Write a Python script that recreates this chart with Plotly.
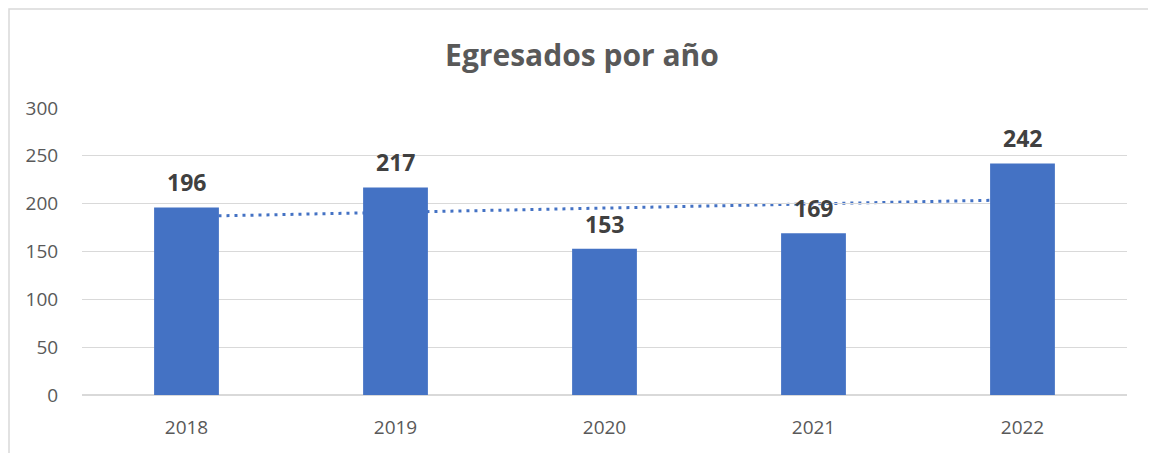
import numpy as np
import plotly.graph_objects as go

# Data
years = ["2018", "2019", "2020", "2021", "2022"]
egresados = [196, 217, 153, 169, 242]
y_ticks = [0, 50, 100, 150, 200, 250, 300]

# linear trendline (as in the Excel chart)
xi = np.arange(1, len(years) + 1)
slope, intercept = np.polyfit(xi, egresados, 1)
trend = slope * xi + intercept

blue = "#4472C4"
gray_text = "#595959"
font_fam = "Open Sans, Liberation Sans, sans-serif"

W, H = 1148, 445
L, T, PW, PH = 74, 100, 1045, 287

fig = go.Figure()
fig.add_trace(go.Bar(x=years, y=egresados, marker=dict(color=blue, line=dict(width=0)),
                     hoverinfo="x+y"))

# data labels above bars (category index positions)
for i, v in enumerate(egresados):
    fig.add_annotation(x=i, y=v, text="<b>%d</b>" % v, showarrow=False,
                       yanchor="bottom", yshift=7,
                       font=dict(family=font_fam, size=23, color="#404040"))

# trendline behind bars
fig.add_shape(type="line", xref="x", yref="y", x0=0, y0=trend[0],
              x1=len(years) - 1, y1=trend[-1], layer="below",
              line=dict(color=blue, width=3, dash="3px,5px"))

# chart frame
fig.add_shape(type="rect", xref="paper", yref="paper",
              x0=(1 - L) / PW, x1=(1144 - L) / PW,
              y0=-0.4, y1=(T + PH - 1) / PH,
              line=dict(color="#D9D9D9", width=1.5), layer="below")

fig.update_layout(
    width=W, height=H,
    margin=dict(l=L, r=W - L - PW, t=T, b=H - T - PH),
    paper_bgcolor="white", plot_bgcolor="white",
    bargap=0.69,
    showlegend=False,
    title=dict(text="<b>Egresados por año</b>", x=0.5, xanchor="center",
               y=1 - 47 / H, yanchor="middle",
               font=dict(family=font_fam, size=30, color=gray_text)),
    font=dict(family=font_fam, size=19, color=gray_text),
    xaxis=dict(type="category", showgrid=False, showline=False,
               ticks="outside", ticklen=15, tickcolor="white",
               tickfont=dict(size=19, color=gray_text), range=[-0.5, 4.5]),
    yaxis=dict(range=[0, 300], tickvals=y_ticks, showgrid=True, gridcolor="#D9D9D9",
               gridwidth=1, zeroline=True, zerolinecolor="#D9D9D9", zerolinewidth=1.5,
               showline=False, ticks="outside", ticklen=19, tickcolor="white",
               tickfont=dict(size=19, color=gray_text)),
)

fig.write_html("out.html")
